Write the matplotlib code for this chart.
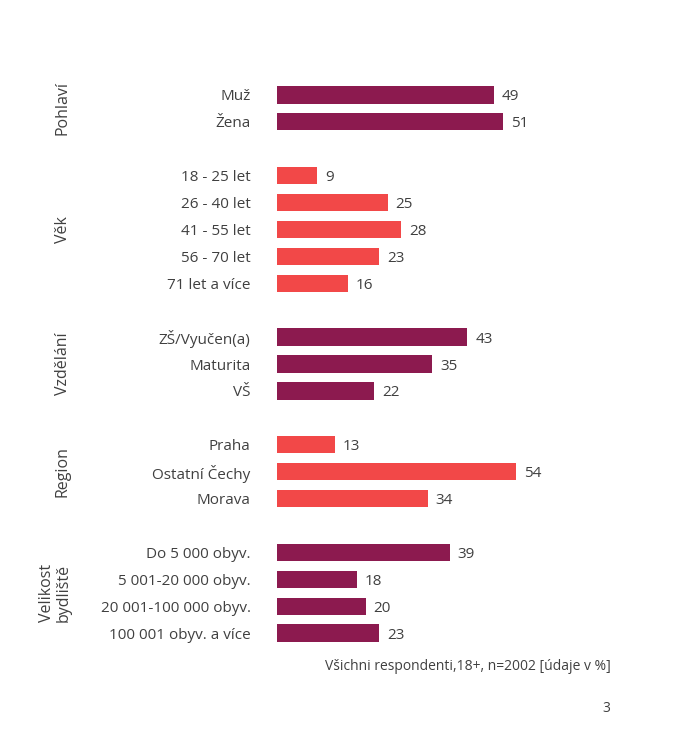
import matplotlib.pyplot as plt

plt.rcParams['font.family'] = ['Open Sans', 'DejaVu Sans']

# Data
groups = ['Pohlaví', 'Věk', 'Vzdělání', 'Region', 'Velikost\nbydliště']
labels = [
    ['Muž', 'Žena'],
    ['18 - 25 let', '26 - 40 let', '41 - 55 let', '56 - 70 let', '71 let a více'],
    ['ZŠ/Vyučen(a)', 'Maturita', 'VŠ'],
    ['Praha', 'Ostatní Čechy', 'Morava'],
    ['Do 5 000 obyv.', '5 001-20 000 obyv.', '20 001-100 000 obyv.', '100 001 obyv. a více'],
]
values = [
    [49, 51],
    [9, 25, 28, 23, 16],
    [43, 35, 22],
    [13, 54, 34],
    [39, 18, 20, 23],
]
colors = ['#8C1A4F', '#F24848', '#8C1A4F', '#F24848', '#8C1A4F']
text_col = '#404040'

W, H = 675, 729
fig = plt.figure(figsize=(W / 100, H / 100), dpi=100)
px = 4.43  # pixels per percent
ax_left, ax_w = 277, 330
top, bottom = 81.5, 646.5
ax = fig.add_axes([ax_left / W, 1 - bottom / H, ax_w / W, (bottom - top) / H])

pos = 0
ticks, ticklabels = [], []
for g, (name, labs, vals, col) in enumerate(zip(groups, labels, values, colors)):
    ys = list(range(pos, pos + len(labs)))
    ax.barh(ys, vals, height=0.64, color=col)
    for y, v in zip(ys, vals):
        ax.text(v + 8 / px, y, str(v), va='center_baseline', ha='left',
                fontsize=11, color=text_col)
    ticks += ys
    ticklabels += labs
    # group label
    yc = (ys[0] + ys[-1]) / 2
    ypix = top + (yc + 0.5) * (bottom - top) / 21
    xg = 55 if '\n' in name else 63
    fig.text(xg / W, 1 - ypix / H, name, rotation=90, ha='center', va='center',
             fontsize=11.5, color=text_col, linespacing=1.05)
    pos = ys[-1] + 2

ax.set_ylim(20.5, -0.5)
ax.set_xlim(0, ax_w / px)
ax.set_yticks(ticks, ticklabels)
ax.tick_params(axis='y', length=0, pad=19, labelsize=11, labelcolor=text_col)
ax.set_xticks([])
for s in ax.spines.values():
    s.set_visible(False)

fig.text(611 / W, 1 - 667 / H, 'Všichni respondenti,18+, n=2002 [údaje v %]',
         ha='right', va='center', fontsize=10, color=text_col)
fig.text(610 / W, 1 - 708 / H, '3', ha='right', va='center',
         fontsize=10, color=text_col)

fig.savefig('out.png', dpi=100, facecolor='white')
